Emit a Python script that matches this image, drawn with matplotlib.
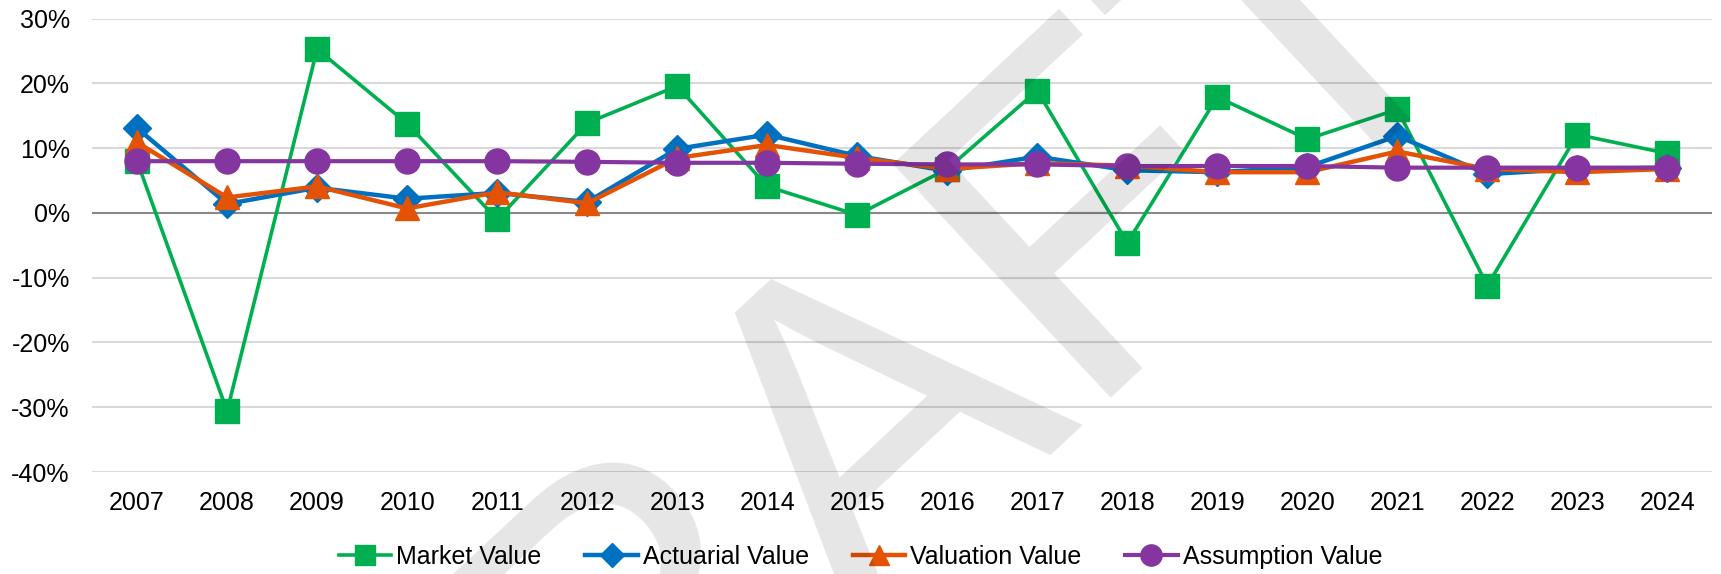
import matplotlib.pyplot as plt
from matplotlib.ticker import FuncFormatter, MultipleLocator

plt.rcParams['font.family'] = ['Liberation Sans', 'DejaVu Sans']

years = ['2007', '2008', '2009', '2010', '2011', '2012', '2013', '2014', '2015',
         '2016', '2017', '2018', '2019', '2020', '2021', '2022', '2023', '2024']

# annual returns in percent
market_value = [8.0, -30.6, 25.3, 13.8, -1.0, 13.9, 19.6, 4.1, -0.3,
                6.8, 18.9, -4.6, 17.9, 11.4, 16.0, -11.2, 12.1, 9.2]
actuarial_value = [13.1, 1.4, 3.9, 2.2, 3.1, 1.7, 9.9, 12.1, 8.8,
                   6.5, 8.7, 6.6, 6.3, 7.1, 11.9, 6.0, 6.8, 7.0]
valuation_value = [10.9, 2.4, 4.1, 0.7, 3.2, 1.5, 8.5, 10.5, 8.5,
                   6.8, 7.7, 7.3, 6.3, 6.3, 9.5, 6.8, 6.3, 6.8]
assumption_value = [8.0, 8.0, 8.0, 8.0, 8.0, 7.9, 7.75, 7.75, 7.6,
                    7.5, 7.5, 7.25, 7.25, 7.25, 7.0, 7.0, 7.0, 7.0]

fig = plt.figure(figsize=(17.21, 5.74), dpi=100)
ax = fig.add_axes([0.0535, 0.1777, 0.9415, 0.7897])

x = range(len(years))
ax.plot(x, market_value, color='#00B050', lw=2.6, marker='s', ms=17,
        label='Market Value', zorder=3)
ax.plot(x, actuarial_value, color='#0070C0', lw=3.2, marker='D', ms=14,
        label='Actuarial Value', zorder=4)
ax.plot(x, valuation_value, color='#E35205', lw=3.2, marker='^', ms=17,
        label='Valuation Value', zorder=5)
ax.plot(x, assumption_value, color='#8535A0', lw=3.0, marker='o', ms=18,
        label='Assumption Value', zorder=6)

ax.set_xlim(-0.5, len(years) - 0.5)
ax.set_ylim(-40, 30)
ax.set_xticks(list(x))
ax.set_xticklabels(years)
ax.yaxis.set_major_locator(MultipleLocator(10))
ax.yaxis.set_major_formatter(FuncFormatter(lambda v, p: f'{v:.0f}%'))
ax.tick_params(length=0, labelsize=18, colors='black')
ax.tick_params(axis='y', pad=16)
ax.tick_params(axis='x', pad=14)

ax.grid(axis='y', color='#D9D9D9', lw=1.5)
ax.set_axisbelow(True)
ax.axhline(0, color='#898989', lw=1.5, zorder=1)
for s in ax.spines.values():
    s.set_visible(False)

fig.legend(loc='center', bbox_to_anchor=(0.5, 0.03), ncol=4, frameon=False,
           fontsize=18, handlelength=2.1, handletextpad=0.2, columnspacing=1.75,
           markerscale=0.85)

# watermark
fig.text(0.536, 0.063, 'DRAFT', fontsize=335, rotation=43, rotation_mode='anchor',
         color='black', alpha=0.1, ha='center', va='baseline', zorder=10)

fig.savefig('out.png', dpi=100)
